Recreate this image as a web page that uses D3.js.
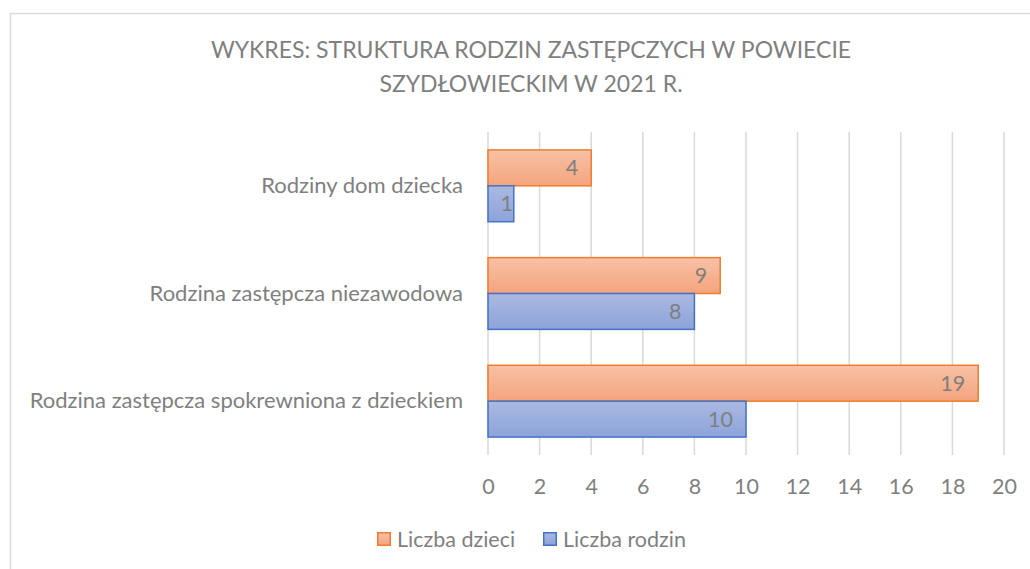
<!DOCTYPE html>
<html>
<head>
<meta charset="utf-8">
<script src="https://cdn.jsdelivr.net/npm/d3@7"></script>
<style>
  body { margin: 0; background: #fff; }
  svg text { font-family: Lato, "Open Sans", sans-serif; fill: #7f7f7f; }
</style>
</head>
<body>
<svg id="chart" width="1030" height="569"></svg>
<script>
// data, Excel order: first category drawn at the bottom
const categories = [
    "Rodzina zastępcza spokrewniona z dzieckiem",
    "Rodzina zastępcza niezawodowa",
    "Rodziny dom dziecka"
];
const seriesNames = ["Liczba dzieci", "Liczba rodzin"];
const liczbaDzieci = [19, 9, 4];
const liczbaRodzin = [10, 8, 1];
const xTicks = [0, 2, 4, 6, 8, 10, 12, 14, 16, 18, 20];
const titleLines = ["WYKRES: STRUKTURA RODZIN ZASTĘPCZYCH W POWIECIE", "SZYDŁOWIECKIM W 2021 R."];

const svg = d3.select("#chart");
const plot = { left: 488, right: 1004, top: 132, bottom: 455 };

const colors = {
    "Liczba dzieci": { stroke: "#ed7d31", top: "#f8c1a6", bottom: "#f4a47d" },
    "Liczba rodzin": { stroke: "#4472c4", top: "#aab9e1", bottom: "#8ca3da" }
};

// chart area border
svg.append("rect")
    .attr("x", 10.5).attr("y", 13.5)
    .attr("width", 1040).attr("height", 600)
    .attr("fill", "#fff")
    .attr("stroke", "#d9d9d9")
    .attr("stroke-width", 1.5);

// gradients
const defs = svg.append("defs");
seriesNames.forEach(function(s, i) {
    const g = defs.append("linearGradient")
        .attr("id", "grad" + i)
        .attr("x1", 0).attr("y1", 0).attr("x2", 0).attr("y2", 1);
    g.append("stop").attr("offset", "0%").attr("stop-color", colors[s].top);
    g.append("stop").attr("offset", "100%").attr("stop-color", colors[s].bottom);
});

// scales
const xScale = d3.scaleLinear()
    .domain([0, 20])
    .range([plot.left, plot.right]);
const yScale = d3.scaleBand()
    .domain(categories.slice().reverse())
    .range([plot.top, plot.bottom])
    .paddingInner(1 / 3)
    .paddingOuter(1 / 6);
const ySub = d3.scaleBand()
    .domain(seriesNames)
    .range([0, yScale.bandwidth()]);

// title
svg.append("text")
    .attr("x", 531)
    .attr("y", 58)
    .attr("text-anchor", "middle")
    .style("font-size", "23px")
    .selectAll("tspan")
    .data(titleLines)
    .join("tspan")
    .attr("x", 531)
    .attr("dy", function(d, i) { return i === 0 ? 0 : 34; })
    .text(function(d) { return d; });

// gridlines
svg.append("g")
    .selectAll("line")
    .data(xTicks)
    .join("line")
    .attr("x1", function(d) { return xScale(d); })
    .attr("x2", function(d) { return xScale(d); })
    .attr("y1", plot.top)
    .attr("y2", plot.bottom)
    .attr("stroke", "#d9d9d9")
    .attr("stroke-width", 1.5);

// x axis labels
const xAxis = svg.append("g")
    .attr("transform", "translate(0," + (plot.bottom + 24) + ")")
    .call(d3.axisBottom(xScale).tickValues(xTicks).tickSize(0).tickPadding(0));
xAxis.select(".domain").remove();
xAxis.selectAll("text")
    .attr("dy", "0.71em")
    .style("font-size", "21.5px")
    .attr("fill", "#7f7f7f");

// y axis labels
const yAxis = svg.append("g")
    .attr("transform", "translate(" + (plot.left - 25) + ",0)")
    .call(d3.axisLeft(yScale).tickSize(0).tickPadding(0));
yAxis.select(".domain").remove();
yAxis.selectAll("text")
    .style("font-size", "22px")
    .attr("fill", "#7f7f7f");

// bars
const rows = categories.map(function(c, i) {
    return { cat: c, values: [
        { s: "Liczba dzieci", v: liczbaDzieci[i] },
        { s: "Liczba rodzin", v: liczbaRodzin[i] }
    ] };
});

const groups = svg.append("g")
    .selectAll("g")
    .data(rows)
    .join("g")
    .attr("transform", function(d) { return "translate(0," + yScale(d.cat) + ")"; });

groups.selectAll("rect")
    .data(function(d) { return d.values; })
    .join("rect")
    .attr("x", xScale(0))
    .attr("y", function(d) { return ySub(d.s); })
    .attr("width", function(d) { return xScale(d.v) - xScale(0); })
    .attr("height", ySub.bandwidth())
    .attr("fill", function(d) { return "url(#grad" + seriesNames.indexOf(d.s) + ")"; })
    .attr("stroke", function(d) { return colors[d.s].stroke; })
    .attr("stroke-width", 1.5);

groups.selectAll("text.lbl")
    .data(function(d) { return d.values; })
    .join("text")
    .attr("class", "lbl")
    .attr("x", function(d) { return Math.max(xScale(d.v) - 13, xScale(0) + 25); })
    .attr("y", function(d) { return ySub(d.s) + ySub.bandwidth() / 2; })
    .attr("dy", "0.35em")
    .attr("text-anchor", "end")
    .style("font-size", "21.5px")
    .text(function(d) { return d.v; });

// legend
const legend = svg.append("g")
    .attr("transform", "translate(377,532)");
const legendX = [0, 166];
seriesNames.forEach(function(s, i) {
    const item = legend.append("g").attr("transform", "translate(" + legendX[i] + ",0)");
    item.append("rect")
        .attr("x", 0.75).attr("y", 0.75)
        .attr("width", 12.5).attr("height", 12.5)
        .attr("fill", "url(#grad" + i + ")")
        .attr("stroke", colors[s].stroke)
        .attr("stroke-width", 1.5);
    item.append("text")
        .attr("x", 20)
        .attr("y", 7)
        .attr("dy", "0.35em")
        .style("font-size", "21.5px")
        .text(s);
});
</script>
</body>
</html>
